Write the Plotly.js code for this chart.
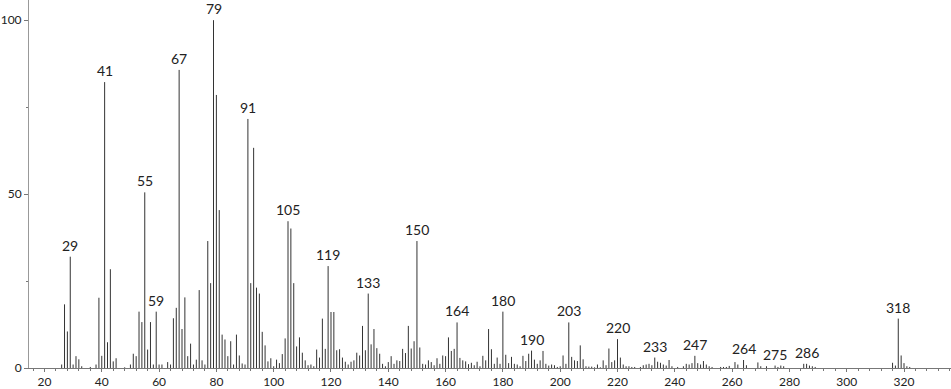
<!DOCTYPE html>
<html><head><meta charset="utf-8">
<script src="https://cdn.plot.ly/plotly-3.0.1.min.js"></script>
<style>html,body{margin:0;padding:0;background:#fff;}#chart{width:951px;height:389px;}</style>
</head><body><div id="chart"></div>
<script>
// m/z values and relative intensities
const masses = [26,27,28,29,30,31,32,33,36,38,39,40,41,42,43,44,45,48,50,51,52,53,54,55,56,57,58,59,60,61,63,64,65,66,67,68,69,70,
71,72,73,74,75,76,77,78,79,80,81,82,83,84,85,86,87,88,89,90,91,92,93,94,95,96,97,98,99,100,101,102,103,104,105,106,107,108,109,110,
111,112,113,114,115,116,117,118,119,120,121,122,123,124,125,126,127,128,129,130,131,132,133,134,135,136,137,138,139,140,
141,142,143,144,145,146,147,148,149,150,151,152,153,154,155,156,157,158,159,160,161,162,163,164,165,166,167,168,169,170,
171,172,173,174,175,176,177,178,179,180,181,182,183,184,185,186,187,188,189,190,191,192,193,194,195,196,197,198,199,200,
201,202,203,204,205,206,207,208,209,210,211,212,213,214,215,216,217,218,219,220,221,222,223,224,225,226,228,229,230,
231,232,233,234,235,236,237,238,239,241,243,244,245,246,247,248,249,250,251,252,253,256,257,258,259,261,262,264,265,
269,270,272,275,276,277,278,285,286,287,288,289,316,317,318,319,320,321,322];
const intensities = [1.0,18.3,10.5,32.0,1.0,3.4,2.5,0.5,0.3,1.0,20.2,3.5,82.2,7.4,28.4,1.9,2.8,0.2,1.0,4.1,3.4,16.2,13.2,50.5,5.3,13.2,1.0,16.2,1.0,1.0,1.7,1.0,14.3,17.3,85.7,11.2,20.3,3.4,
7.0,1.0,2.4,22.4,2.2,1.0,36.5,24.4,100,78.5,45.4,9.6,8.2,3.4,7.7,1.0,9.6,3.6,1.3,1.0,71.6,24.4,63.3,23.1,21.4,10.4,6.5,1.9,2.8,0.5,2.4,1.4,4.0,8.5,42.2,40.1,24.4,6.2,8.8,4.4,
2.2,0.8,1.0,0.5,5.3,3.0,14.2,5.5,29.3,16.1,16.1,5.1,5.4,3.0,1.8,1.0,1.8,2.2,4.4,3.6,12.1,5.1,21.4,6.8,11.2,5.7,4.1,1.2,0.5,1.7,
3.4,1.2,2.2,2.0,5.5,4.3,12.1,5.6,7.7,36.5,5.9,1.2,1.0,2.2,1.7,0.8,2.8,1.2,3.6,3.4,8.8,4.9,5.5,13.1,2.9,2.2,1.9,1.1,1.5,0.8,
1.8,0.5,3.5,2.2,11.2,5.4,1.2,3.0,1.2,16.2,3.8,1.4,3.2,1.2,1.0,0.5,3.5,2.0,4.1,5.0,2.4,1.2,2.2,4.9,1.2,0.7,1.0,0.8,0.3,0.5,
3.6,1.2,13.1,3.2,2.2,2.0,6.5,2.5,0.5,0.4,0.4,0.2,1.0,0.2,2.2,0.8,5.6,1.7,2.2,8.3,3.0,1.0,0.5,0.5,0.3,0.3,0.3,0.8,1.0,
1.2,0.8,3.0,1.8,1.5,1.0,0.7,2.3,0.5,0.3,0.5,1.2,1.0,1.4,3.5,1.4,1.0,2.0,1.0,0.5,0.3,0.3,0.3,0.3,0.6,1.7,1.0,2.3,0.8,
1.6,0.5,0.5,0.7,0.3,0.7,0.5,1.2,1.2,0.7,0.5,0.3,1.5,0.7,14.2,3.6,1.4,0.5,0.3];
const labeledPeaks = [29,41,55,59,67,79,91,105,119,133,150,164,180,190,203,220,233,247,264,275,286,318];
const xTickValues = [20,40,60,80,100,120,140,160,180,200,220,240,260,280,300,320];
const yTickValues = [0,50,100];

const lx = [], ly = [];
masses.forEach((m, i) => { lx.push(m, m, null); ly.push(0, intensities[i], null); });

const annotations = labeledPeaks.map(m => ({
  x: m, y: intensities[masses.indexOf(m)], text: String(m),
  showarrow: false, xanchor: 'center', yanchor: 'bottom', yshift: 1,
  font: {family: 'Lato, "Open Sans", sans-serif', size: 14, color: '#222'}
}));

const tickFont = {family: 'Lato, "Open Sans", sans-serif', size: 12, color: '#222'};

Plotly.newPlot('chart', [{
  type: 'scatter', mode: 'lines', x: lx, y: ly, connectgaps: false,
  line: {color: '#333', width: 1}, hoverinfo: 'skip', showlegend: false
}], {
  width: 951, height: 389,
  margin: {l: 29, r: 0, t: 0, b: 21, pad: 0},
  paper_bgcolor: '#fff', plot_bgcolor: '#fff',
  showlegend: false,
  xaxis: {
    range: [14.6, 336.4], showgrid: false, zeroline: false,
    showline: true, linecolor: '#777', linewidth: 1,
    tickmode: 'array', tickvals: xTickValues, ticks: 'outside', ticklen: 3, tickcolor: '#777',
    tickfont: tickFont, ticklabelstandoff: 0,
    minor: {tickmode: 'linear', tick0: 0, dtick: 4, ticks: 'outside', ticklen: 2, tickcolor: '#777', showgrid: false}
  },
  yaxis: {
    range: [0, 105.8], showgrid: false, zeroline: false,
    showline: true, linecolor: '#999', linewidth: 1,
    tickmode: 'array', tickvals: yTickValues, ticks: 'outside', ticklen: 4, tickcolor: '#777',
    tickfont: tickFont, ticklabelstandoff: 0,
    minor: {tickmode: 'linear', tick0: 0, dtick: 25, ticks: 'outside', ticklen: 2, tickcolor: '#777', showgrid: false}
  },
  annotations: annotations
}, {staticPlot: true, displayModeBar: false});
</script>
</body></html>
